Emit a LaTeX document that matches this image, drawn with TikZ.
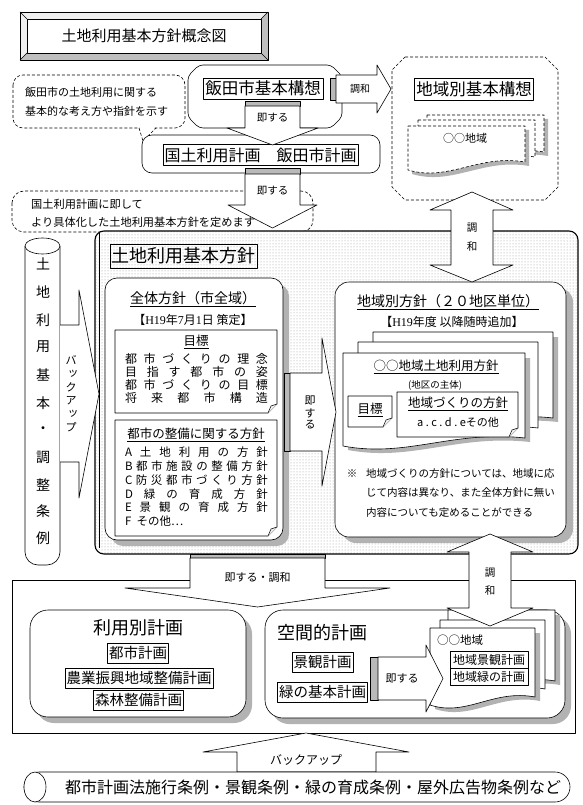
\documentclass[tikz,border=0pt]{standalone}
\usepackage{fontspec}
\setmainfont{Noto Sans CJK JP}
\newfontfamily\serifl{Liberation Serif}
\usetikzlibrary{patterns}
\newcommand{\fz}[1]{\fontsize{#1}{#1}\selectfont}
\tikzset{
  bx/.style={draw, line width=0.6pt, fill=white},
  txtbox/.style={draw, line width=0.6pt, fill=white, inner sep=1.5pt},
  barfill/.style={draw, line width=0.5pt, fill=gray!55},
  blockarrow/.style={draw, line width=0.6pt, fill=white},
  dline/.style={draw, line width=0.6pt, dash pattern=on 3pt off 2pt},
  pshadow/.style={fill=gray!60, draw=none},
  dpage/.style={dline, fill=white},
  spage/.style={draw, line width=0.6pt, fill=white},
}
\newcommand{\notebox}[4]{%
  \draw[bx] (#1,#2) -- (#3,#2) -- (#3,{#4-9}) -- ({#3-9},#4) -- (#1,#4) -- cycle;
  \draw[line width=0.5pt, fill=gray!12] (#3,{#4-9}) -- ({#3-6},{#4-7}) -- ({#3-9},#4);}
\newcommand{\docpage}[5]{%
  \path[#5] (#1,#2) -- (#3,#2) -- (#3,{#4-8}) .. controls ({#3-0.4*(#3-#1)},{#4-16}) and ({#1+0.35*(#3-#1)},{#4+12}) .. (#1,#4) -- cycle;}
\begin{document}
\begin{tikzpicture}[x=1pt,y=-1pt, line join=round, font=\fz{11}, every node/.append style={inner sep=1pt}]
\useasboundingbox (0,0) rectangle (582,805);
\fill[white] (0,0) rectangle (582,805);

% ---------- title ----------
\fill[gray!30] (20,12) rectangle (268,60);
\fill[gray!12] (20,12) -- (268,12) -- (261,19) -- (27,19) -- (27,53) -- (20,60) -- cycle;
\fill[gray!50] (268,12) -- (268,60) -- (20,60) -- (27,53) -- (261,53) -- (261,19) -- cycle;
\draw[line width=0.6pt] (20,12) rectangle (268,60);
\draw[line width=0.6pt, fill=white] (27,19) rectangle (261,53);
\draw[line width=0.5pt] (20,12)--(27,19) (268,12)--(261,19) (268,60)--(261,53) (20,60)--(27,53);
\node[font=\fz{15}] (title) at (144,36) {土地利用基本方針概念図};

% ---------- bubble 1 ----------
\draw[dline, fill=white, rounded corners=10] (13,75) rectangle (185,128);
\fill[white] (139,126) -- (143,141) -- (156,126) -- cycle;
\draw[dline] (139,128) -- (143,141) -- (156,128);
\node[font=\fz{11}, anchor=west] (b1a) at (24,92) {飯田市の土地利用に関する};
\node[font=\fz{11}, anchor=west] (b1b) at (24,111) {基本的な考え方や指針を示す};

% ---------- 飯田市基本構想 callout ----------
\draw[bx, rounded corners=4] (199,65) -- (331,65) -- (342,76) -- (342,117) -- (331,128) -- (199,128) -- (188,117) -- (188,76) -- cycle;
\node[txtbox, font=\fz{16.5}, minimum width=120pt, minimum height=21pt] (kihon) at (263,88.5) {飯田市基本構想};
\draw[barfill] (245,101) rectangle (300,106);
\draw[barfill] (330,78) rectangle (336,100);

% ---------- 地域別基本構想 ----------
\draw[dline, fill=white] (405,57) -- (545,57) -- (558,70) -- (558,187) -- (545,200) -- (405,200) -- (392,187) -- (392,70) -- cycle;
\node[txtbox, font=\fz{16.5}, minimum width=118pt, minimum height=22pt] (chiikikoso) at (474,89) {地域別基本構想};
\docpage{431}{119}{548}{164}{pshadow}
\docpage{427}{115}{544}{160}{dpage}
\docpage{418}{120}{535}{165}{dpage}
\docpage{412}{130}{529}{174}{pshadow}
\docpage{408}{126}{525}{170}{dpage}
\node[font=\fz{11}] (oo1) at (465,138) {○○地域};

% ---------- 調和 arrow (top) ----------
\draw[blockarrow] (336,75) -- (377,75) -- (377,65) -- (391,89) -- (377,113) -- (377,103) -- (336,103) -- cycle;
\node[font=\fz{10}] (chowa1) at (360,89) {調和};

% ---------- 国土利用計画 ----------
\draw[bx, rounded corners=10] (142,135) rectangle (380,173);
\node[txtbox, font=\fz{16}, minimum width=195pt, minimum height=21pt] (kokudo) at (260.5,155) {国土利用計画　飯田市計画};
\draw[barfill] (245,168) rectangle (300,174);

% ---------- 即する arrow 1 ----------
\draw[blockarrow] (245,106) -- (300,106) -- (300,128) -- (318,128) -- (272.5,145) -- (227,128) -- (245,128) -- cycle;
\node[font=\fz{10.5}] (soku1) at (272.5,118) {即する};

% ---------- bubble 2 ----------
\draw[dline, fill=white, rounded corners=12] (12,191) rectangle (313,232);
\fill[white] (176,230) -- (183,241) -- (193,230) -- cycle;
\draw[dline] (176,232) -- (183,241) -- (193,232);
\node[font=\fz{11.2}, anchor=west] (b2a) at (30,204) {国土利用計画に即して};
\node[font=\fz{11.2}, anchor=west] (b2b) at (30,222) {より具体化した土地利用基本方針を定めます};

% ---------- 即する arrow 2 ----------
\draw[blockarrow] (245,174) -- (300,174) -- (300,205) -- (317,205) -- (272.5,228) -- (228,205) -- (245,205) -- cycle;
\node[font=\fz{10.5}] (soku2) at (272.5,191) {即する};

% ---------- left scroll ----------
\draw[bx, rounded corners=13] (25,246) -- (25,565) -- (60,565) -- (60,246);
\draw[bx] (42.5,246) ellipse [x radius=17.5, y radius=8];
\foreach \c/\yy in {土/264, 地/292, 利/320, 用/347, 基/375, 本/403, ・/430, 調/457, 整/485, 条/511, 例/538}
  \node[font=\fz{14}] (sc\yy) at (43,\yy) {\c};

% ---------- dotted region ----------
\fill[white, rounded corners=9] (95,231) rectangle (578,554);
\fill[pattern=dots, pattern color=gray!80, rounded corners=9] (95,231) rectangle (578,554);
\draw[line width=1.1pt, rounded corners=9] (95,231) rectangle (578,554);
\draw[line width=0.6pt] (99,232) -- (99,548);
\node[draw, line width=0.6pt, font=\fz{18}, inner sep=1.5pt, minimum height=24pt] (kihonhoshin) at (183.5,256) {土地利用基本方針};

% ---------- left バックアップ arrow ----------
\draw[blockarrow] (60,325) -- (79,325) -- (79,290) -- (99,394) -- (79,498) -- (79,462) -- (60,462);
\foreach \c/\xx/\yy in {バ/71/360, ッ/73/373.5, ク/71/387, ア/71/400.5, ッ/73/414, プ/71/427.5}
  \node[font=\fz{11}, inner sep=0pt] (bk\yy) at (\xx,\yy) {\c};

% ---------- 全体方針 panel ----------
\fill[pshadow, rounded corners=12] (111,284) rectangle (289,546);
\draw[bx, rounded corners=12] (105,278) rectangle (283,540);
\node[font=\fz{14}] (zentai) at (193,299) {\underline{全体方針（市全域）}};
\node[font=\fz{12}] (h19a) at (193,320) {【{\serifl H19}年{\serifl 7}月{\serifl 1}日 策定】};
\notebox{115}{330}{277}{413}
\node[font=\fz{12.5}] (mokuhyo) at (196,342) {\underline{目標}};
\node[font=\fz{12}] (m1) at (196.5,358.5) {\makebox[143pt][s]{都\hfill 市\hfill づ\hfill く\hfill り\hfill の\hfill 理\hfill 念}};
\node[font=\fz{12}] (m2) at (196.5,371.8) {\makebox[143pt][s]{目\hfill 指\hfill す\hfill 都\hfill 市\hfill の\hfill 姿}};
\node[font=\fz{12}] (m3) at (196.5,385.1) {\makebox[143pt][s]{都\hfill 市\hfill づ\hfill く\hfill り\hfill の\hfill 目\hfill 標}};
\node[font=\fz{12}] (m4) at (196.5,398.4) {\makebox[143pt][s]{将\hfill 来\hfill 都\hfill 市\hfill 構\hfill 造}};
\notebox{115}{420}{277}{536}
\node[font=\fz{12.5}] (seibi) at (196,435) {\underline{都市の整備に関する方針}};
\node[font=\fz{11.5}] (la) at (196.5,452) {\makebox[143pt][s]{A\hfill 土\hfill 地\hfill 利\hfill 用\hfill の\hfill 方\hfill 針}};
\node[font=\fz{11.5}] (lb) at (196.5,466) {\makebox[143pt][s]{B\hfill 都\hfill 市\hfill 施\hfill 設\hfill の\hfill 整\hfill 備\hfill 方\hfill 針}};
\node[font=\fz{11.5}] (lc) at (196.5,480) {\makebox[143pt][s]{C\hfill 防\hfill 災\hfill 都\hfill 市\hfill づ\hfill く\hfill り\hfill 方\hfill 針}};
\node[font=\fz{11.5}] (ld) at (196.5,494) {\makebox[143pt][s]{D\hfill 緑\hfill の\hfill 育\hfill 成\hfill 方\hfill 針}};
\node[font=\fz{11.5}] (le) at (196.5,507.5) {\makebox[143pt][s]{E\hfill 景\hfill 観\hfill の\hfill 育\hfill 成\hfill 方\hfill 針}};
\node[font=\fz{11.5}, anchor=west] (lf) at (124,521) {F\hspace{5pt}その他…};

% ---------- 地域別方針 panel ----------
\fill[pshadow, rounded corners=14] (342,288) rectangle (573,543);
\draw[bx, rounded corners=14] (335,282) rectangle (566,537);
\node[font=\fz{14}] (chiikibetsu) at (448,302) {\underline{地域別方針（２０地区単位）}};
\node[font=\fz{12}] (h19b) at (452,322) {【{\serifl H19}年度 以降随時追加】};
\docpage{378}{337}{558}{430}{pshadow}
\docpage{373}{332}{553}{426}{spage}
\docpage{358}{342}{538}{436}{spage}
\docpage{348}{358}{530}{450}{pshadow}
\docpage{343}{353}{525}{446}{spage}
\node[font=\fz{12.5}] (oohoshin) at (436,367) {\underline{○○地域土地利用方針}};
\node[font=\fz{9.5}] (shutai) at (435,385) {(地区の主体)};
\notebox{348}{396}{392}{427}
\node[font=\fz{12.5}] (mk2) at (370,410) {\underline{目標}};
\notebox{397}{392}{518}{437}
\node[font=\fz{12.5}] (zukuri) at (458,404) {\underline{地域づくりの方針}};
\node[font=\fz{11}] (acde) at (458,422) {a\hspace{2.5pt}.\hspace{2.5pt}c\hspace{2.5pt}.\hspace{2.5pt}d\hspace{2.5pt}.\hspace{2.5pt}eその他};
\node[font=\fz{10.5}] (kome) at (352,474) {※};
\node[font=\fz{10.5}, anchor=west] (n1) at (365,474) {地域づくりの方針については、地域に応};
\node[font=\fz{10.5}, anchor=west] (n2) at (365,493) {じて内容は異なり、また全体方針に無い};
\node[font=\fz{10.5}, anchor=west] (n3) at (365,512) {内容についても定めることができる};

% ---------- middle 即する arrow ----------
\draw[barfill] (284,373) rectangle (290,451);
\draw[blockarrow] (290,373) -- (322,373) -- (322,338) -- (336,412) -- (322,486) -- (322,451) -- (290,451) -- cycle;
\foreach \c/\yy in {即/401, す/413, る/425}
  \node[font=\fz{11}, inner sep=0pt] (sm\yy) at (310,\yy) {\c};

% ---------- 調和 vertical arrow (top) ----------
\draw[blockarrow] (472,192) -- (513,210) -- (493,210) -- (493,265) -- (513,265) -- (472,282) -- (430,265) -- (451,265) -- (451,210) -- (430,210) -- cycle;
\node[font=\fz{10.5}] (ct1) at (472,228) {調};
\node[font=\fz{10.5}] (ct2) at (472,247) {和};

% ---------- bottom rectangle ----------
\draw[line width=0.6pt] (12,580) rectangle (575,733);

% ---------- 即する・調和 arrow ----------
\draw[barfill] (190,554) rectangle (325,558);
\draw[blockarrow] (190,558) -- (325,558) -- (325,588) -- (390,588) -- (257.5,607) -- (125,588) -- (190,588) -- cycle;
\node[font=\fz{11}] (sokuchowa) at (257.5,577) {即する・調和};

% ---------- 利用別計画 ----------
\fill[pshadow, rounded corners=18] (36,616) rectangle (252,723);
\draw[bx, rounded corners=18] (30,610) rectangle (246,717);
\node[font=\fz{18}] (riyo) at (138,628) {利用別計画};
\node[txtbox, font=\fz{14.5}, minimum height=20pt] (toshi) at (138,653) {都市計画};
\node[txtbox, font=\fz{14.5}, minimum height=20pt] (nogyo) at (139,678) {農業振興地域整備計画};
\node[txtbox, font=\fz{14.5}, minimum height=20pt] (shinrin) at (138.5,700) {森林整備計画};

% ---------- 空間的計画 ----------
\fill[pshadow, rounded corners=18] (271,616) rectangle (571,724);
\draw[bx, rounded corners=18] (265,610) rectangle (565,718);
\node[font=\fz{18}, anchor=west] (kukan) at (276,633) {空間的計画};
\node[txtbox, font=\fz{14.5}, minimum height=20pt] (keikan) at (322.5,662) {景観計画};
\node[txtbox, font=\fz{14.5}, minimum height=20pt] (midori) at (322.5,692) {緑の基本計画};
\docpage{453}{615}{560}{693}{pshadow}
\docpage{448}{610}{555}{689}{spage}
\docpage{440}{620}{545}{697}{spage}
\docpage{435}{633}{540}{709}{pshadow}
\docpage{430}{628}{535}{705}{spage}
\node[font=\fz{11.5}, anchor=west] (oo2) at (436,640) {○○地域};
\node[txtbox, font=\fz{12}, minimum width=78pt, minimum height=17pt] (chk) at (489,659.5) {地域景観計画};
\node[txtbox, font=\fz{12}, minimum width=78pt, minimum height=17pt] (chm) at (489,676.5) {地域緑の計画};
\draw[barfill] (370,657) rectangle (378,700);
\draw[blockarrow] (378,657) -- (426,657) -- (426,645) -- (443,678.5) -- (426,712) -- (426,700) -- (378,700) -- cycle;
\node[font=\fz{11}] (soku3) at (402,678.5) {即する};

% ---------- 調和 vertical arrow (bottom) ----------
\draw[blockarrow] (490,534) -- (533,552) -- (511,552) -- (511,608) -- (533,608) -- (490,626) -- (447,608) -- (469,608) -- (469,552) -- (447,552) -- cycle;
\node[font=\fz{10.5}] (cb1) at (490,573) {調};
\node[font=\fz{10.5}] (cb2) at (490,591) {和};

% ---------- バックアップ bottom ----------
\draw[blockarrow] (306,733) -- (409,752) -- (376,752) -- (376,772) -- (237,772) -- (237,752) -- (203,752) -- cycle;
\node[font=\fz{12}] (backup2) at (306,760) {バックアップ};

% ---------- ordinance scroll ----------
\draw[bx, rounded corners=15] (24,772) rectangle (570,802);
\draw[bx] (35,787) ellipse [x radius=11, y radius=15];
\node[font=\fz{16}] (jorei) at (313,787) {都市計画法施行条例・景観条例・緑の育成条例・屋外広告物条例など};
\end{tikzpicture}
\end{document}
